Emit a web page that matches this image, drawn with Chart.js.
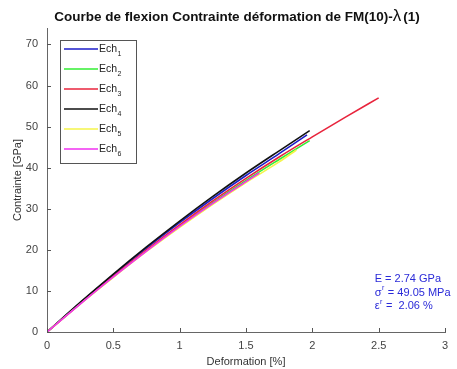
<!DOCTYPE html>
<html>
<head>
<meta charset="utf-8">
<script src="https://cdn.jsdelivr.net/npm/chart.js@4.4.1/dist/chart.umd.min.js"></script>
<style>
  html, body { margin: 0; padding: 0; background: #fff; }
  #wrap { width: 457px; height: 369px; }
</style>
</head>
<body>
<div id="wrap"><canvas id="c" width="457" height="369"></canvas></div>
<script>
// Flexural stress-strain curves, specimens Ech1..Ech6
const seriesNames = ['Ech1', 'Ech2', 'Ech3', 'Ech4', 'Ech5', 'Ech6'];
const seriesSubscripts = ['1', '2', '3', '4', '5', '6'];
const seriesColors = ['#1c1cc8', '#33ee33', '#e8243c', '#111111', '#f4f44a', '#f030f0'];

// strain [%] / stress values per specimen
const ech1Strain = [0, 0.25, 0.5, 0.75, 1.0, 1.25, 1.5, 1.75, 1.96];
const ech1Stress = [0, 7.1, 13.9, 20.4, 26.6, 32.5, 38.1, 43.4, 48.0];
const ech2Strain = [0, 0.25, 0.5, 0.75, 1.0, 1.25, 1.5, 1.75, 1.98];
const ech2Stress = [0, 6.9, 13.5, 19.8, 25.8, 31.5, 36.9, 42.0, 46.6];
const ech3Strain = [0, 0.25, 0.5, 0.75, 1.0, 1.25, 1.5, 1.75, 2.0, 2.25, 2.5];
const ech3Stress = [0, 6.9, 13.6, 20.0, 26.1, 31.9, 37.4, 42.6, 47.5, 52.3, 57.0];
const ech4Strain = [0, 0.25, 0.5, 0.75, 1.0, 1.25, 1.5, 1.75, 1.98];
const ech4Stress = [0, 7.2, 14.1, 20.7, 27.0, 33.0, 38.7, 44.1, 49.0];
const ech5Strain = [0, 0.25, 0.5, 0.75, 1.0, 1.25, 1.5, 1.75, 1.88];
const ech5Stress = [0, 6.8, 13.3, 19.6, 25.5, 31.1, 36.4, 41.4, 44.3];
const ech6Strain = [0, 0.25, 0.5, 0.75, 1.0, 1.25, 1.5, 1.6];
const ech6Stress = [0, 6.8, 13.4, 19.7, 25.7, 31.3, 36.6, 38.7];

const strainSets = [ech1Strain, ech2Strain, ech3Strain, ech4Strain, ech5Strain, ech6Strain];
const stressSets = [ech1Stress, ech2Stress, ech3Stress, ech4Stress, ech5Stress, ech6Stress];

// axis ticks
const xTicks = [0, 0.5, 1, 1.5, 2, 2.5, 3];
const yTicks = [0, 10, 20, 30, 40, 50, 60, 70];

// summary results
const resultLines = [
  { sym: 'E', sup: '', text: ' = 2.74 GPa' },
  { sym: 'σ', sup: 'r', text: ' = 49.05 MPa' },
  { sym: 'ε', sup: 'r', text: ' =  2.06 %' }
];
const resultAnchor = { x: 2.47, y: 12.9 };

const titleMain = 'Courbe de flexion Contrainte déformation de FM(10)-';
const titleLambda = 'λ';
const titleTail = '(1)';

const FONT = '"Liberation Sans", Arial, sans-serif';

const datasets = seriesNames.map((name, i) => ({
  label: name,
  data: strainSets[i].map((x, k) => ({ x: x, y: stressSets[i][k] })),
  borderColor: seriesColors[i],
  backgroundColor: seriesColors[i],
  borderWidth: 1.6,
  pointRadius: 0,
  showLine: true,
  fill: false,
  cubicInterpolationMode: 'monotone',
  order: seriesNames.length - i
}));

// title, inward tick marks, legend box and result text
const decorations = {
  id: 'decorations',
  afterDraw(chart) {
    const ctx = chart.ctx;
    const xs = chart.scales.x, ys = chart.scales.y;
    const area = chart.chartArea;
    ctx.save();

    // inward ticks
    ctx.strokeStyle = '#555';
    ctx.lineWidth = 1;
    ctx.beginPath();
    xTicks.forEach(v => {
      const px = Math.round(xs.getPixelForValue(v)) + 0.5;
      ctx.moveTo(px, area.bottom);
      ctx.lineTo(px, area.bottom - 4);
    });
    yTicks.forEach(v => {
      const py = Math.round(ys.getPixelForValue(v)) + 0.5;
      ctx.moveTo(area.left, py);
      ctx.lineTo(area.left + 4, py);
    });
    ctx.stroke();

    // title
    ctx.fillStyle = '#111';
    ctx.textBaseline = 'middle';
    const fMain = 'bold 13.5px ' + FONT;
    const fLam = '17px ' + FONT;
    ctx.font = fMain;
    const w1 = ctx.measureText(titleMain).width;
    const w3 = ctx.measureText(titleTail).width;
    ctx.font = fLam;
    const w2 = ctx.measureText(titleLambda).width;
    let tx = 237 - (w1 + w2 + w3 + 2) / 2;
    const ty = 17;
    ctx.textAlign = 'left';
    ctx.font = fMain;
    ctx.fillText(titleMain, tx, ty);
    tx += w1;
    ctx.font = fLam;
    ctx.fillText(titleLambda, tx, ty - 1);
    tx += w2 + 2;
    ctx.font = fMain;
    ctx.fillText(titleTail, tx, ty);

    // legend
    const lx = 60, ly = 40, lw = 76, lh = 123;
    ctx.fillStyle = '#fff';
    ctx.fillRect(lx, ly, lw, lh);
    ctx.strokeStyle = '#555';
    ctx.lineWidth = 1;
    ctx.strokeRect(lx + 0.5, ly + 0.5, lw, lh);
    chart.data.datasets.forEach((ds, i) => {
      const ey = ly + 9 + i * 20;
      ctx.strokeStyle = ds.borderColor;
      ctx.lineWidth = 1.6;
      ctx.beginPath();
      ctx.moveTo(lx + 4, ey);
      ctx.lineTo(lx + 38, ey);
      ctx.stroke();
      ctx.fillStyle = '#222';
      ctx.font = '10.5px ' + FONT;
      ctx.textAlign = 'left';
      ctx.textBaseline = 'middle';
      const base = ds.label.replace(/\d+$/, '');
      ctx.fillText(base, lx + 39, ey);
      const bw = ctx.measureText(base).width;
      ctx.font = '7px ' + FONT;
      ctx.fillText(seriesSubscripts[i], lx + 39 + bw + 0.5, ey + 5);
    });

    // results
    ctx.fillStyle = '#2a2ad8';
    const rx = xs.getPixelForValue(resultAnchor.x);
    const ry = ys.getPixelForValue(resultAnchor.y);
    resultLines.forEach((r, k) => {
      const yy = ry + k * 13.5;
      let cx = rx;
      ctx.font = '11px ' + FONT;
      ctx.textBaseline = 'middle';
      ctx.fillText(r.sym, cx, yy);
      cx += ctx.measureText(r.sym).width;
      if (r.sup) {
        ctx.font = '7px ' + FONT;
        ctx.fillText(r.sup, cx + 0.5, yy - 4);
        cx += ctx.measureText(r.sup).width + 1;
      }
      ctx.font = '11px ' + FONT;
      ctx.fillText(r.text, cx, yy);
    });

    ctx.restore();
  }
};

new Chart(document.getElementById('c'), {
  type: 'scatter',
  data: { datasets: datasets },
  options: {
    responsive: false,
    animation: false,
    layout: { padding: { top: 28, right: 12, left: 0, bottom: 0 } },
    plugins: {
      legend: { display: false },
      tooltip: { enabled: false },
      title: { display: false }
    },
    scales: {
      x: {
        type: 'linear',
        min: 0,
        max: 3,
        afterBuildTicks(scale) { scale.ticks = xTicks.map(v => ({ value: v })); },
        afterFit(scale) { scale.height = 37; },
        ticks: {
          padding: 7,
          color: '#444',
          font: { family: FONT, size: 11 },
          maxRotation: 0,
          callback: v => String(v)
        },
        grid: { display: true, drawOnChartArea: false, drawTicks: false },
        border: { display: true, color: '#666', width: 1 },
        title: {
          display: true,
          text: 'Deformation [%]',
          color: '#333',
          font: { family: FONT, size: 11 },
          padding: { top: 0, bottom: 0 }
        }
      },
      y: {
        type: 'linear',
        min: 0,
        max: 74,
        afterBuildTicks(scale) { scale.ticks = yTicks.map(v => ({ value: v })); },
        afterFit(scale) { scale.width = 47; },
        ticks: {
          padding: 9,
          color: '#444',
          font: { family: FONT, size: 11 },
          callback: v => String(v)
        },
        grid: { display: true, drawOnChartArea: false, drawTicks: false },
        border: { display: true, color: '#666', width: 1 },
        title: {
          display: true,
          text: 'Contrainte [GPa]',
          color: '#333',
          font: { family: FONT, size: 11 },
          padding: { top: 11, bottom: 0 }
        }
      }
    }
  },
  plugins: [decorations]
});
</script>
</body>
</html>
